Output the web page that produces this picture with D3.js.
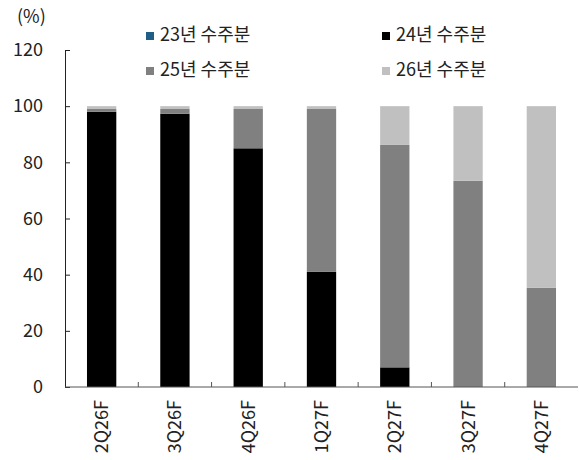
<!DOCTYPE html>
<html>
<head>
<meta charset="utf-8">
<script src="https://cdn.jsdelivr.net/npm/d3@7"></script>
<style>
  html, body { margin: 0; padding: 0; background: #fff; }
  text { font-family: "Noto Sans CJK KR", "Noto Sans", sans-serif; fill: #222; }
</style>
</head>
<body>
<svg id="chart" width="579" height="460"></svg>
<script>
// Quarters and share of backlog by order year (%)
const quarters = ["2Q26F", "3Q26F", "4Q26F", "1Q27F", "2Q27F", "3Q27F", "4Q27F"];
const seriesNames = ["23년 수주분", "24년 수주분", "25년 수주분", "26년 수주분"];
const orders23 = [0, 0, 0, 0, 0, 0, 0];
const orders24 = [98, 97.3, 85, 41, 7, 0, 0];
const orders25 = [1, 1.7, 14, 58, 79.2, 73.4, 35.3];
const orders26 = [1, 1, 1, 1, 13.8, 26.6, 64.7];
const yTicks = [0, 20, 40, 60, 80, 100, 120];
const colors = ["#1f5f86", "#000000", "#808080", "#c0c0c0"];

const seriesValues = [orders23, orders24, orders25, orders26];
const rows = quarters.map((q, i) => {
  const r = { q };
  seriesNames.forEach((s, k) => { r[s] = seriesValues[k][i]; });
  return r;
});

const svg = d3.select("#chart");
const margin = { left: 65, right: 1, top: 50, bottom: 73 };
const W = 579, H = 460;
const FS = 18;

const x = d3.scaleBand().domain(quarters)
  .range([margin.left, W - margin.right])
  .paddingInner(0.6).paddingOuter(0.3);
const y = d3.scaleLinear().domain([0, 120]).range([H - margin.bottom, margin.top]);

const layers = d3.stack().keys(seriesNames)(rows);

// stacked bars
svg.append("g").selectAll("g").data(layers).join("g")
  .attr("fill", (d, i) => colors[i])
  .selectAll("rect").data(d => d).join("rect")
  .attr("x", d => x(d.data.q))
  .attr("width", x.bandwidth())
  .attr("y", d => y(d[1]))
  .attr("height", d => y(d[0]) - y(d[1]));

// y axis (ticks pointing inward)
const yAxis = svg.append("g")
  .attr("transform", `translate(${margin.left},0)`)
  .call(d3.axisLeft(y).tickValues(yTicks).tickSize(-5).tickPadding(22));
yAxis.select(".domain").attr("stroke", "#222");
yAxis.selectAll(".tick line").attr("stroke", "#222");
yAxis.selectAll(".tick text").attr("font-size", FS).attr("fill", "#222");

// x axis: baseline with tick marks between categories
const x0 = y(0);
svg.append("line")
  .attr("x1", margin.left).attr("x2", W - margin.right)
  .attr("y1", x0).attr("y2", x0)
  .attr("stroke", "#555");
const step = x.step();
const boundaries = quarters.slice(1).map(q => x(q) - x.paddingInner() * step / 2);
svg.append("g").selectAll("line").data(boundaries).join("line")
  .attr("x1", d => d).attr("x2", d => d)
  .attr("y1", x0).attr("y2", x0 - 5)
  .attr("stroke", "#555");

// category labels, rotated
svg.append("g").selectAll("text").data(quarters).join("text")
  .attr("transform", d => `translate(${x(d) + x.bandwidth() / 2 + 6.5},${x0 + 13}) rotate(-90)`)
  .attr("text-anchor", "end")
  .attr("font-size", FS)
  .text(d => d);

// unit label
svg.append("text").attr("x", 17).attr("y", 23).attr("font-size", FS).text("(%)");

// legend, two columns
const legendPos = [[146, 32], [382, 32], [146, 67], [382, 67]];
const lg = svg.append("g").selectAll("g").data(seriesNames).join("g")
  .attr("transform", (d, i) => `translate(${legendPos[i][0]},${legendPos[i][1]})`);
lg.append("rect").attr("width", 8).attr("height", 8).attr("fill", (d, i) => colors[i]);
lg.append("text").attr("x", 14).attr("y", 9).attr("font-size", FS).text(d => d);
</script>
</body>
</html>
